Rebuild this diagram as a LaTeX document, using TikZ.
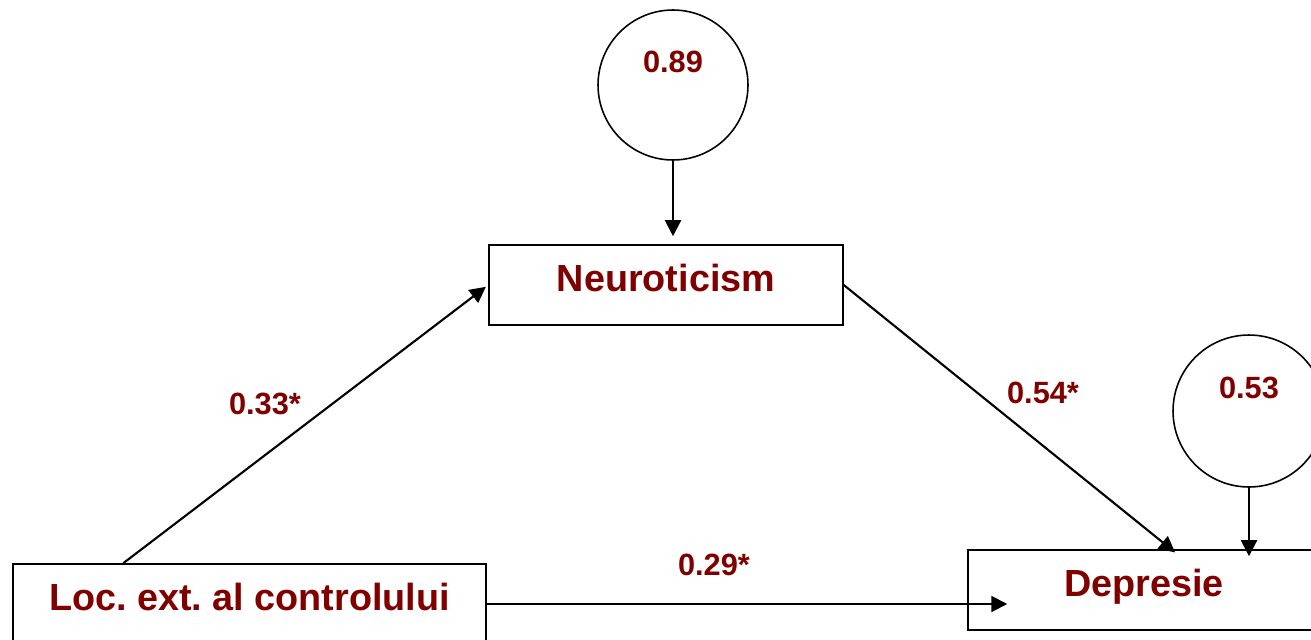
\documentclass[tikz,border=0pt]{standalone}
\usepackage{xcolor}
\usepackage{fontspec}
\setmainfont{Liberation Sans}
\usepackage{tikz}
\usetikzlibrary{arrows.meta}
\definecolor{coefred}{RGB}{128,0,0}
\tikzset{
  varbox/.style={rectangle, draw, line width=0.9pt, minimum height=1.6cm,
    text height=0.6cm, text depth=0.34cm, text=coefred,
    font=\fontsize{21.5}{24}\selectfont\bfseries\frenchspacing},
  errcirc/.style={circle, draw, line width=0.9pt, inner sep=0pt,
    text height=0.45cm, text depth=0.97cm, text=coefred,
    font=\fontsize{17.5}{20}\selectfont\bfseries},
  coef/.style={text=coefred, font=\fontsize{17.5}{20}\selectfont\bfseries},
  causal/.style={-{Triangle[length=0.32cm, width=0.32cm]}, line width=1.2pt}
}

\begin{document}
\begin{tikzpicture}[x=0.02cm, y=-0.02cm]

\useasboundingbox (0,0) rectangle (1311,639);
\clip (0,0) rectangle (1311,639);

% variables
\node[varbox, minimum width=9.46cm] (loc) at (249.5,604) {Loc. ext. al controlului};
\node[varbox, minimum width=7.08cm] (neuro) at (666,285) {Neuroticism};
\node[varbox, minimum width=7.04cm] (dep) at (1144,590) {Depresie};

% residuals
\node[errcirc, minimum size=3cm] (e1) at (673,85) {0.89};
\node[errcirc, minimum size=3.04cm] (e2) at (1249,411) {0.53};

% paths
\path[causal] (e1.south) edge[shorten >=0.16cm] (e1.south |- neuro.north);
\path[causal] (e2.south) edge[shorten >=-0.14cm] (e2.south |- dep.north);
\path[causal] ([xshift=2.22cm]loc.north west) edge[shorten >=0.06cm] (neuro.west);
\path[causal] (neuro.east) edge[shorten >=-0.1cm] ([xshift=4.08cm]dep.north west);
\path[causal] (loc.east) edge[shorten >=-0.8cm] (loc.east -| dep.west);

% coefficients
\node[coef] (c1) at (265,404) {0.33*};
\node[coef] (c2) at (1043,393) {0.54*};
\node[coef] (c3) at (714,565) {0.29*};

\end{tikzpicture}
\end{document}
